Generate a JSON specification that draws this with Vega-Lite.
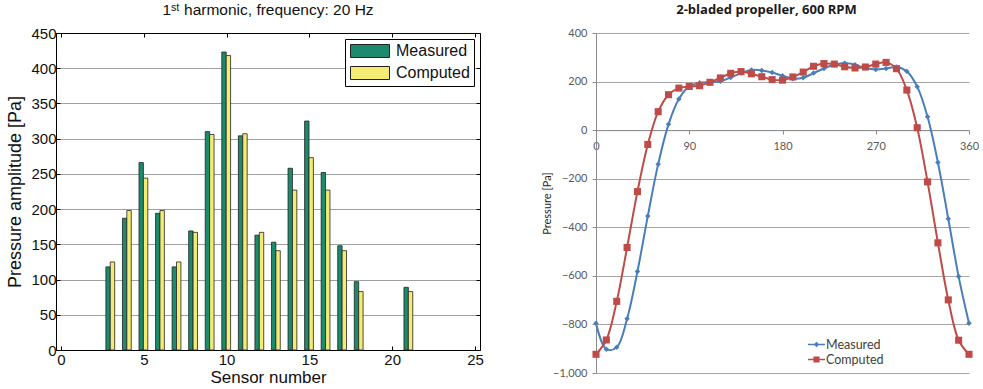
{
  "$schema": "https://vega.github.io/schema/vega-lite/v6.json",
  "padding": {"left": 6, "top": 2, "right": 0, "bottom": 0},
  "background": "white",
  "config": {"view": {"stroke": null}},
  "bounds": "flush",
  "spacing": 116,
  "resolve": {"scale": {"color": "independent"}, "legend": {"color": "independent"}},
  "datasets": {
    "bars": [
      {"sensor": 3, "series": "Measured", "value": 118}, {"sensor": 3, "series": "Computed", "value": 125},
      {"sensor": 4, "series": "Measured", "value": 187}, {"sensor": 4, "series": "Computed", "value": 198},
      {"sensor": 5, "series": "Measured", "value": 266}, {"sensor": 5, "series": "Computed", "value": 244},
      {"sensor": 6, "series": "Measured", "value": 194}, {"sensor": 6, "series": "Computed", "value": 198},
      {"sensor": 7, "series": "Measured", "value": 118}, {"sensor": 7, "series": "Computed", "value": 125},
      {"sensor": 8, "series": "Measured", "value": 169}, {"sensor": 8, "series": "Computed", "value": 167},
      {"sensor": 9, "series": "Measured", "value": 310}, {"sensor": 9, "series": "Computed", "value": 306},
      {"sensor": 10, "series": "Measured", "value": 423}, {"sensor": 10, "series": "Computed", "value": 418},
      {"sensor": 11, "series": "Measured", "value": 304}, {"sensor": 11, "series": "Computed", "value": 307},
      {"sensor": 12, "series": "Measured", "value": 163}, {"sensor": 12, "series": "Computed", "value": 167},
      {"sensor": 13, "series": "Measured", "value": 153}, {"sensor": 13, "series": "Computed", "value": 141},
      {"sensor": 14, "series": "Measured", "value": 258}, {"sensor": 14, "series": "Computed", "value": 227},
      {"sensor": 15, "series": "Measured", "value": 325}, {"sensor": 15, "series": "Computed", "value": 273},
      {"sensor": 16, "series": "Measured", "value": 252}, {"sensor": 16, "series": "Computed", "value": 227},
      {"sensor": 17, "series": "Measured", "value": 148}, {"sensor": 17, "series": "Computed", "value": 141},
      {"sensor": 18, "series": "Measured", "value": 97}, {"sensor": 18, "series": "Computed", "value": 83},
      {"sensor": 21, "series": "Measured", "value": 89}, {"sensor": 21, "series": "Computed", "value": 83}
    ],
    "curves": [
      {"angle": 0, "series": "Measured", "p": -795}, {"angle": 10, "series": "Measured", "p": -902},
      {"angle": 20, "series": "Measured", "p": -894}, {"angle": 30, "series": "Measured", "p": -777},
      {"angle": 40, "series": "Measured", "p": -582}, {"angle": 50, "series": "Measured", "p": -354},
      {"angle": 60, "series": "Measured", "p": -140}, {"angle": 70, "series": "Measured", "p": 24},
      {"angle": 80, "series": "Measured", "p": 128}, {"angle": 90, "series": "Measured", "p": 180},
      {"angle": 100, "series": "Measured", "p": 195}, {"angle": 110, "series": "Measured", "p": 198},
      {"angle": 120, "series": "Measured", "p": 201}, {"angle": 130, "series": "Measured", "p": 217},
      {"angle": 140, "series": "Measured", "p": 235}, {"angle": 150, "series": "Measured", "p": 248},
      {"angle": 160, "series": "Measured", "p": 246}, {"angle": 170, "series": "Measured", "p": 237},
      {"angle": 180, "series": "Measured", "p": 224}, {"angle": 190, "series": "Measured", "p": 212},
      {"angle": 200, "series": "Measured", "p": 216}, {"angle": 210, "series": "Measured", "p": 235},
      {"angle": 220, "series": "Measured", "p": 254}, {"angle": 230, "series": "Measured", "p": 269},
      {"angle": 240, "series": "Measured", "p": 276}, {"angle": 250, "series": "Measured", "p": 269},
      {"angle": 260, "series": "Measured", "p": 256}, {"angle": 270, "series": "Measured", "p": 250},
      {"angle": 280, "series": "Measured", "p": 254}, {"angle": 290, "series": "Measured", "p": 260},
      {"angle": 300, "series": "Measured", "p": 242}, {"angle": 310, "series": "Measured", "p": 179},
      {"angle": 320, "series": "Measured", "p": 55}, {"angle": 330, "series": "Measured", "p": -133},
      {"angle": 340, "series": "Measured", "p": -365}, {"angle": 350, "series": "Measured", "p": -603},
      {"angle": 360, "series": "Measured", "p": -795},
      {"angle": 0, "series": "Computed", "p": -923}, {"angle": 10, "series": "Computed", "p": -864},
      {"angle": 20, "series": "Computed", "p": -705}, {"angle": 30, "series": "Computed", "p": -483},
      {"angle": 40, "series": "Computed", "p": -253}, {"angle": 50, "series": "Computed", "p": -59},
      {"angle": 60, "series": "Computed", "p": 76}, {"angle": 70, "series": "Computed", "p": 146},
      {"angle": 80, "series": "Computed", "p": 173}, {"angle": 90, "series": "Computed", "p": 180},
      {"angle": 100, "series": "Computed", "p": 183}, {"angle": 110, "series": "Computed", "p": 197},
      {"angle": 120, "series": "Computed", "p": 215}, {"angle": 130, "series": "Computed", "p": 234},
      {"angle": 140, "series": "Computed", "p": 241}, {"angle": 150, "series": "Computed", "p": 232},
      {"angle": 160, "series": "Computed", "p": 220}, {"angle": 170, "series": "Computed", "p": 208},
      {"angle": 180, "series": "Computed", "p": 206}, {"angle": 190, "series": "Computed", "p": 219},
      {"angle": 200, "series": "Computed", "p": 239}, {"angle": 210, "series": "Computed", "p": 263},
      {"angle": 220, "series": "Computed", "p": 274}, {"angle": 230, "series": "Computed", "p": 272},
      {"angle": 240, "series": "Computed", "p": 261}, {"angle": 250, "series": "Computed", "p": 256},
      {"angle": 260, "series": "Computed", "p": 260}, {"angle": 270, "series": "Computed", "p": 272},
      {"angle": 280, "series": "Computed", "p": 279}, {"angle": 290, "series": "Computed", "p": 253},
      {"angle": 300, "series": "Computed", "p": 165}, {"angle": 310, "series": "Computed", "p": 10},
      {"angle": 320, "series": "Computed", "p": -213}, {"angle": 330, "series": "Computed", "p": -464},
      {"angle": 340, "series": "Computed", "p": -699}, {"angle": 350, "series": "Computed", "p": -865},
      {"angle": 360, "series": "Computed", "p": -923}
    ]
  },
  "hconcat": [
    {
      "width": 424,
      "height": 317,
      "data": {"name": "bars"},
      "title": {"text": "1ˢᵗ harmonic, frequency: 20 Hz", "font": "Liberation Sans", "fontSize": 15.5, "fontWeight": "normal", "color": "#111", "offset": 8},
      "resolve": {"axis": {"x": "independent", "y": "independent"}},
      "layer": [
        {
          "transform": [{"filter": "datum.series === 'Measured'"}],
          "mark": {"type": "bar", "width": 4.4, "xOffset": -2.6, "stroke": "#222", "strokeWidth": 0.8},
          "encoding": {
            "x": {"field": "sensor", "type": "quantitative", "scale": {"domain": [0, 25], "nice": false},
              "axis": {"values": [0, 5, 10, 15, 20, 25], "title": "Sensor number", "titleFont": "Liberation Sans", "titleFontSize": 17, "titleFontWeight": "normal", "titleColor": "#111", "titlePadding": 2,
                "labelFont": "Liberation Sans", "labelFontSize": 15, "labelColor": "#111", "labelFlush": false, "labelPadding": 6,
                "domainColor": "#000", "tickColor": "#000", "tickSize": -4, "grid": false}},
            "y": {"field": "value", "type": "quantitative", "scale": {"domain": [0, 450], "nice": false},
              "axis": {"values": [0, 50, 100, 150, 200, 250, 300, 350, 400, 450], "title": "Pressure amplitude [Pa]", "titleFont": "Liberation Sans", "titleFontSize": 18, "titleFontWeight": "normal", "titleColor": "#111", "titlePadding": 6,
                "labelFont": "Liberation Sans", "labelFontSize": 15, "labelColor": "#111", "labelFlush": false, "labelPadding": 4,
                "domainColor": "#000", "tickColor": "#000", "tickSize": -4, "grid": true, "gridColor": "#a0a0a0", "gridWidth": 1}},
            "color": {"field": "series", "type": "nominal", "scale": {"domain": ["Measured", "Computed"], "range": ["#1b8a6d", "#f4ec72"]},
              "legend": {"title": null, "orient": "top-right", "offset": 6, "padding": 4, "strokeColor": "#000", "fillColor": "#fff",
                "symbolType": "M-3,-1H3V1H-3Z", "symbolSize": 169, "symbolStrokeColor": "#222", "symbolStrokeWidth": 1, "symbolOpacity": 1, "symbolOffset": 13,
                "labelFont": "Liberation Sans", "labelFontSize": 16, "labelColor": "#111", "labelOffset": 18, "rowPadding": 4}}
          }
        },
        {
          "transform": [{"filter": "datum.series === 'Computed'"}],
          "mark": {"type": "bar", "width": 4.4, "xOffset": 1.8, "stroke": "#222", "strokeWidth": 0.8},
          "encoding": {
            "x": {"field": "sensor", "type": "quantitative",
              "axis": {"orient": "top", "values": [0, 5, 10, 15, 20, 25], "labels": false, "title": null, "domainColor": "#000", "tickColor": "#000", "tickSize": -4, "grid": false}},
            "y": {"field": "value", "type": "quantitative",
              "axis": {"orient": "right", "values": [0, 50, 100, 150, 200, 250, 300, 350, 400, 450], "labels": false, "title": null, "domainColor": "#000", "tickColor": "#000", "tickSize": -4, "grid": false}},
            "color": {"field": "series", "type": "nominal"}
          }
        }
      ]
    },
    {
      "width": 373,
      "height": 340,
      "data": {"name": "curves"},
      "title": {"text": "2-bladed propeller, 600 RPM", "font": "Open Sans", "fontSize": 13, "fontWeight": "bold", "color": "#1a1a1a", "dx": -16, "offset": 10},
      "layer": [
        {
          "mark": {"type": "line", "interpolate": "catmull-rom", "strokeWidth": 2},
          "encoding": {
            "x": {"field": "angle", "type": "quantitative", "scale": {"domain": [0, 360], "nice": false},
              "axis": {"values": [0, 90, 180, 270, 360], "title": null, "offset": -242.86, "grid": false, "labelFlush": false,
                "labelFont": "Lato", "labelFontSize": 11, "labelColor": "#595959", "labelPadding": 6,
                "domainColor": "#8c8c8c", "tickColor": "#8c8c8c", "tickSize": 4}},
            "y": {"field": "p", "type": "quantitative", "scale": {"domain": [-1000, 400], "nice": false},
              "axis": {"values": [-1000, -800, -600, -400, -200, 0, 200, 400], "title": "Pressure [Pa]", "titleFont": "Lato", "titleFontSize": 11, "titleFontWeight": "normal", "titleColor": "#262626", "titlePadding": 0,
                "labelFont": "Lato", "labelFontSize": 11, "labelColor": "#595959", "labelPadding": 5, "labelFlush": false,
                "domainColor": "#8c8c8c", "tickColor": "#8c8c8c", "tickSize": 4, "grid": true, "gridColor": "#a6a6a6", "gridWidth": 1}},
            "color": {"field": "series", "type": "nominal", "scale": {"domain": ["Measured", "Computed"], "range": ["#4a7ebb", "#be4b48"]},
              "legend": {"title": null, "orient": "none", "legendX": 212, "legendY": 303, "labelFont": "Lato", "labelFontSize": 12.5, "labelColor": "#404040",
                "symbolSize": 289, "rowPadding": 0, "labelOffset": 1,
                "encode": {"symbols": {"update": {
                  "shape": {"signal": "datum.value === 'Measured' ? 'M-1,-0.1H1V0.1H-1Z M-0.32,0L0,-0.32L0.32,0L0,0.32Z' : 'M-1,-0.1H1V0.1H-1Z M-0.36,-0.36H0.36V0.36H-0.36Z'"},
                  "fill": {"signal": "datum.value === 'Measured' ? '#4a7ebb' : '#be4b48'"},
                  "fillOpacity": {"value": 1},
                  "strokeWidth": {"value": 0}}}}}}
          }
        },
        {
          "transform": [{"filter": "datum.series === 'Measured'"}],
          "mark": {"type": "point", "shape": "diamond", "filled": true, "size": 30, "opacity": 1, "color": "#4a7ebb"},
          "encoding": {
            "x": {"field": "angle", "type": "quantitative"},
            "y": {"field": "p", "type": "quantitative"}
          }
        },
        {
          "transform": [{"filter": "datum.series === 'Computed'"}],
          "mark": {"type": "square", "size": 50, "opacity": 1, "color": "#be4b48"},
          "encoding": {
            "x": {"field": "angle", "type": "quantitative"},
            "y": {"field": "p", "type": "quantitative"}
          }
        }
      ]
    }
  ]
}
